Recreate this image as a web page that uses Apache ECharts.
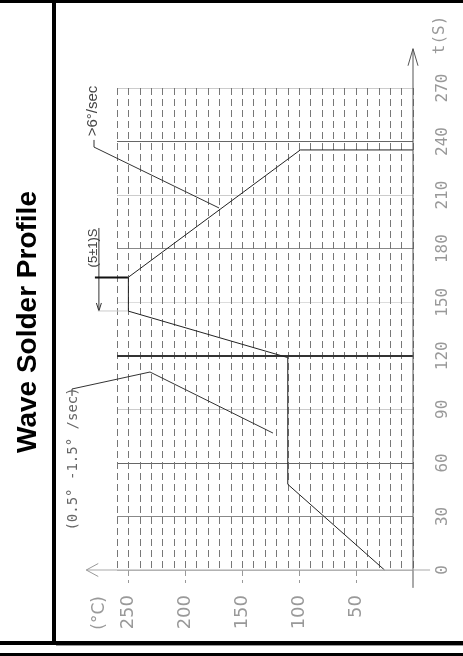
<!DOCTYPE html>
<html><head><meta charset="utf-8">
<script src="https://cdn.jsdelivr.net/npm/echarts@6/dist/echarts.min.js"></script>
<style>html,body{margin:0;padding:0;background:#fff}#c{width:463px;height:656px}</style>
</head><body><div id="c"></div>
<script>
// ---- data ----
const titleText = 'Wave Solder Profile';
const tempTickValues = [50, 100, 150, 200, 250];
const timeTickValues = [0, 30, 60, 90, 120, 150, 180, 210, 240, 270];
const timeLineColors = ['#bbb', '#888', '#666', '#ccc', '#555', '#ddd', '#888', '#ccc', '#666', '#ccc'];
const profileTime = [0, 48, 119, 145, 164, 235.3, 235.3];
const profileTemp = [25, 110, 110, 250, 250, 99, 0];
// annotation leaders (temperature, time)
const preheatLeaderTemp = [299.5, 299.5, 231, 123];
const preheatLeaderTime = [97.5, 101.4, 110.9, 76.7];
const coolLeaderTemp = [280.2, 280.2, 170.4];
const coolLeaderTime = [240.9, 236.9, 202.8];
const dwellMarkTemp = [275.9, 279.4, 250.4];   // marker line temp, bar start, bar end
const dwellMarkTime = [191.6, 145.1, 163.8];   // marker top, marker bottom, bar time
const annotationLabels = ['(0.5° -1.5° /sec)', '>6°/sec', '(5±1)S'];
const annotationTemp = [298.6, 281.1, 281.1];
const annotationTime = [62.2, 257.1, 180.4];
const tempUnitLabel = '(°C)';
const timeUnitLabel = 't(S)';

const chart = echarts.init(document.getElementById('c'), null, {renderer: 'canvas'});
const option = {
  animation: false,
  backgroundColor: '#fff',
  grid: {left: 117, right: 50, top: 88, bottom: 86, containLabel: false, outerBoundsMode: 'none'},
  xAxis: [{
    type: 'value', inverse: true, min: 0, max: 260, interval: 10,
    axisLine: {show: false}, axisTick: {show: false}, axisLabel: {show: false},
    splitLine: {show: true, lineStyle: {color: '#777', type: [7, 4], width: 1}}
  }, {
    type: 'value', inverse: true, min: 0, max: 260, position: 'bottom',
    axisLine: {show: false},
    axisTick: {show: true, customValues: tempTickValues, length: 13, lineStyle: {color: '#999', type: [6, 4]}},
    axisLabel: {customValues: tempTickValues, rotate: 90, margin: 25, color: '#999',
      fontFamily: 'DejaVu Sans', fontSize: 18},
    splitLine: {show: false}
  }],
  yAxis: {
    type: 'value', position: 'right', min: 0, max: 270, interval: 30,
    axisLine: {show: false}, axisTick: {show: false},
    axisLabel: {rotate: 90, margin: 22, color: '#999', fontFamily: 'DejaVu Sans Mono', fontSize: 16},
    splitLine: {show: true, lineStyle: {color: timeLineColors, width: 1}}
  },
  series: [{
    type: 'line',
    xAxisIndex: 0,
    data: profileTime.map((t, i) => [profileTemp[i], t]),
    symbol: 'none',
    lineStyle: {color: '#222', width: 1},
    z: 5,
    markLine: {
      silent: true, symbol: 'none', label: {show: false},
      lineStyle: {color: '#333', width: 2, type: 'solid'},
      data: [{yAxis: 120}]
    }
  }]
};
chart.setOption(option);

const P = (T, t) => chart.convertToPixel({gridIndex: 0}, [T, t]);
const g = [];
function poly(pts, stroke, w) {
  g.push({type: 'polyline', shape: {points: pts}, style: {stroke: stroke, lineWidth: w, fill: null}, silent: true, z: 10});
}
function txt(str, c, family, size, color, weight) {
  g.push({type: 'text', x: c[0], y: c[1], rotation: Math.PI / 2, silent: true, z: 10,
    style: {text: str, fontFamily: family, fontSize: size, fontWeight: weight || 'normal', fill: color,
      align: 'center', verticalAlign: 'middle'}});
}
function rect(x, y, w, h, c) {
  g.push({type: 'rect', shape: {x: x, y: y, width: w, height: h}, style: {fill: c}, silent: true, z: 20});
}

// axes with open arrows
const tTop = P(0, 292), tBot = P(0, -10);
poly([tBot, tTop], '#555', 1);
poly([[tTop[0] - 5, tTop[1] + 17], tTop, [tTop[0] + 5, tTop[1] + 17]], '#555', 1);
const xL = P(287, 0), xR = P(-15, 0);
poly([xR, xL], '#aaa', 1.2);
poly([[xL[0] + 12, xL[1] - 6.5], xL, [xL[0] + 12, xL[1] + 6.5]], '#999', 1);

// leaders
poly(preheatLeaderTemp.map((T, i) => P(T, preheatLeaderTime[i])), '#333', 1);
poly(coolLeaderTemp.map((T, i) => P(T, coolLeaderTime[i])), '#333', 1);
// dwell marker
const mTop = P(dwellMarkTemp[0], dwellMarkTime[0]), mBot = P(dwellMarkTemp[0], dwellMarkTime[1]);
poly([mTop, mBot], '#333', 1);
poly([[mBot[0] - 2.5, mBot[1] - 8], mBot, [mBot[0] + 2.5, mBot[1] - 8]], '#333', 1);
poly([P(dwellMarkTemp[1], dwellMarkTime[2]), P(dwellMarkTemp[2], dwellMarkTime[2])], '#111', 2);
poly([P(dwellMarkTemp[0] + 1, dwellMarkTime[1]), P(dwellMarkTemp[2], dwellMarkTime[1])], '#ccc', 1);

// annotation texts
txt(annotationLabels[0], P(annotationTemp[0], annotationTime[0]), 'DejaVu Sans Mono', 14, '#666');
txt(annotationLabels[1], P(annotationTemp[1], annotationTime[1]), 'Liberation Sans', 15, '#444');
txt(annotationLabels[2], P(annotationTemp[2], annotationTime[2]), 'Liberation Sans', 13, '#444');
txt(tempUnitLabel, P(275, -24), 'DejaVu Sans', 17, '#999');
txt(timeUnitLabel, P(-23.7, 299.7), 'DejaVu Sans Mono', 16, '#999');

// title & frame
txt(titleText, [28, 322], 'Liberation Sans', 28, '#000', 'bold');
rect(0, 0, 463, 3, '#000');
rect(52, 0, 4, 645, '#000');
rect(0, 641, 463, 4, '#000');
rect(56, 645, 407, 1, '#999');
rect(0, 653, 463, 3, '#000');

chart.setOption({graphic: {elements: g}});
</script>
</body></html>
